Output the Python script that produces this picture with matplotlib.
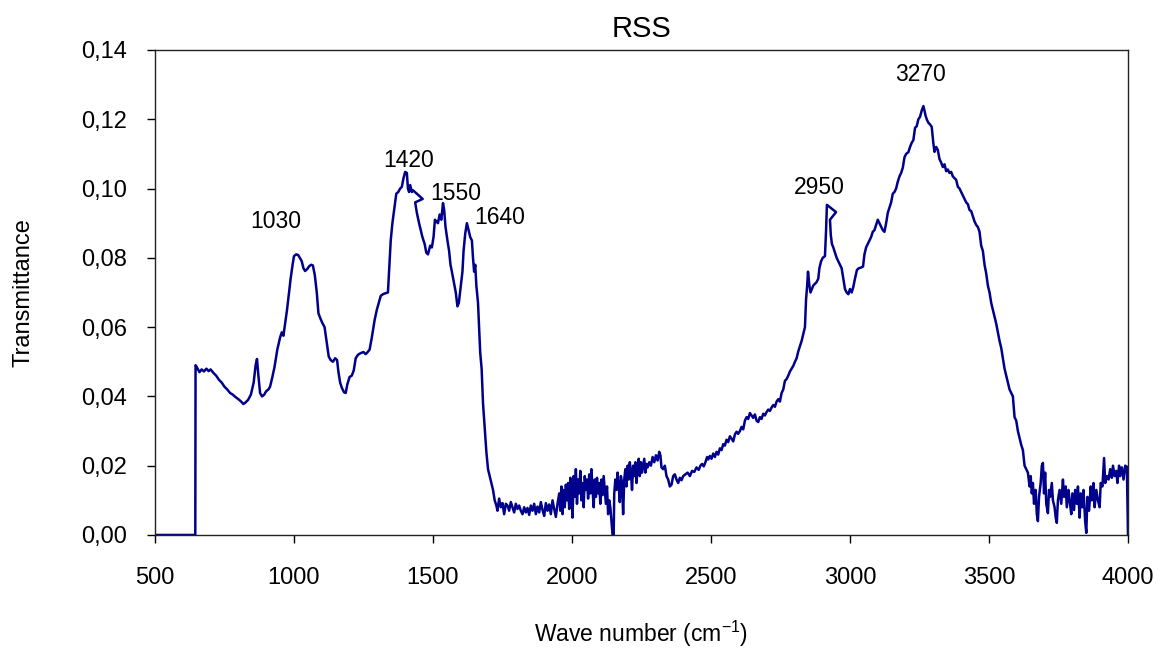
import matplotlib.pyplot as plt
from matplotlib.ticker import FuncFormatter, MultipleLocator

plt.rcParams["font.family"] = ["Liberation Sans", "DejaVu Sans"]
plt.rcParams["mathtext.default"] = "regular"

navy = (0 / 255, 0 / 255, 140 / 255)

# spectrum (wave number in cm-1, transmittance)
wave = [
    500, 645, 646, 650, 660, 668, 676, 685, 693, 700, 710, 720, 730, 740, 750,
    760, 770, 780, 790, 800, 810, 818, 825, 835, 845, 855, 862, 867, 872, 878,
    885, 893, 900, 908, 914, 922, 930, 940, 950, 956, 962, 968, 975, 982, 988,
    995, 1000, 1008, 1015, 1021, 1028, 1034, 1040, 1048, 1055, 1062, 1068, 1075,
    1082, 1088, 1095, 1102, 1110, 1118, 1125, 1132, 1140, 1148, 1155, 1160, 1166,
    1172, 1180, 1186, 1192, 1200, 1208, 1215, 1222, 1230, 1240, 1250, 1258, 1265,
    1272, 1280, 1290, 1298, 1305, 1312, 1320, 1330, 1338, 1342, 1348, 1354, 1362,
    1368, 1375, 1382, 1388, 1394, 1400, 1406, 1410, 1414, 1418, 1424, 1428, 1463,
    1436, 1442, 1450, 1456, 1462, 1470, 1476, 1482, 1490, 1496, 1502, 1507, 1512,
    1518, 1524, 1530, 1536, 1540, 1545, 1552, 1558, 1563, 1568, 1575, 1582, 1588,
    1593, 1600, 1606, 1610, 1616, 1622, 1628, 1634, 1640, 1644, 1648, 1652, 1656,
    1662, 1666, 1670, 1675, 1680, 1686, 1692, 1698, 1704, 1710, 1716, 1722, 1728,
    1732, 1738, 1744, 1750, 1756, 1762, 1768, 1774, 1780, 1786, 1792, 1798, 1804,
    1810, 1816, 1822, 1828, 1834, 1840, 1846, 1852, 1858, 1864, 1870, 1876, 1882,
    1888, 1894, 1900, 1906, 1912, 1918, 1924, 1930, 1936, 1942, 1948, 1954, 1958,
    1962, 1966, 1970, 1974, 1978, 1982, 1986, 1990, 1994, 1998, 2002, 2006, 2010,
    2014, 2018, 2022, 2026, 2030, 2034, 2038, 2042, 2046, 2050, 2054, 2058, 2062,
    2066, 2070, 2074, 2078, 2082, 2086, 2090, 2094, 2098, 2102, 2106, 2110, 2114,
    2118, 2122, 2126, 2130, 2134, 2138, 2142, 2146, 2150, 2152, 2156, 2160, 2164,
    2168, 2172, 2176, 2180, 2184, 2188, 2192, 2196, 2200, 2204, 2208, 2212, 2216,
    2220, 2224, 2228, 2232, 2236, 2240, 2244, 2248, 2252, 2256, 2260, 2264, 2268,
    2272, 2278, 2284, 2290, 2296, 2302, 2308, 2314, 2318, 2322, 2328, 2334, 2340,
    2346, 2352, 2358, 2364, 2370, 2376, 2382, 2388, 2394, 2400, 2408, 2416, 2424,
    2432, 2440, 2448, 2456, 2462, 2468, 2474, 2480, 2486, 2490, 2496, 2502, 2508,
    2514, 2520, 2526, 2532, 2538, 2544, 2550, 2556, 2562, 2568, 2574, 2580, 2586,
    2592, 2598, 2604, 2610, 2616, 2622, 2628, 2634, 2640, 2646, 2652, 2658, 2664,
    2670, 2676, 2682, 2688, 2694, 2700, 2706, 2712, 2718, 2724, 2730, 2736, 2742,
    2748, 2754, 2760, 2766, 2772, 2778, 2784, 2790, 2796, 2802, 2808, 2814, 2820,
    2826, 2832, 2838, 2842, 2846, 2849, 2854, 2858, 2863, 2868, 2874, 2880, 2886,
    2890, 2896, 2902, 2910, 2914, 2917, 2950, 2928, 2931, 2935, 2940, 2946, 2952,
    2958, 2964, 2970, 2976, 2982, 2988, 2994, 3000, 3006, 3012, 3018, 3025, 3032,
    3040, 3047, 3052, 3058, 3064, 3070, 3076, 3082, 3088, 3094, 3100, 3106, 3112,
    3118, 3124, 3130, 3136, 3142, 3148, 3154, 3160, 3166, 3172, 3178, 3184, 3190,
    3196, 3202, 3210, 3216, 3222, 3228, 3234, 3240, 3246, 3252, 3258, 3264, 3268,
    3272, 3277, 3282, 3288, 3294, 3300, 3304, 3310, 3316, 3322, 3328, 3334, 3340,
    3346, 3352, 3358, 3364, 3370, 3376, 3382, 3388, 3394, 3400, 3406, 3412, 3418,
    3424, 3430, 3436, 3442, 3448, 3454, 3460, 3466, 3472, 3478, 3484, 3490, 3496,
    3502, 3508, 3514, 3520, 3526, 3532, 3538, 3544, 3550, 3556, 3562, 3568, 3574,
    3580, 3586, 3592, 3598, 3604, 3610, 3616, 3622, 3628, 3634, 3640, 3646, 3650,
    3654, 3658, 3662, 3668, 3672, 3676, 3680, 3686, 3690, 3694, 3698, 3702, 3706,
    3712, 3716, 3720, 3726, 3730, 3736, 3740, 3744, 3748, 3754, 3760, 3766, 3770,
    3776, 3780, 3786, 3790, 3796, 3800, 3806, 3810, 3816, 3820, 3826, 3830, 3836,
    3840, 3846, 3850, 3854, 3860, 3866, 3870, 3876, 3880, 3886, 3892, 3898, 3902,
    3908, 3914, 3918, 3924, 3930, 3936, 3942, 3946, 3952, 3958, 3962, 3968, 3972,
    3978, 3984, 3990, 3996, 4000,
]
trans = [
    0.0, 0.0, 0.049, 0.0485, 0.047, 0.0478, 0.0472, 0.048, 0.0473, 0.0478, 0.0468,
    0.046, 0.0448, 0.044, 0.0428, 0.042, 0.041, 0.0405, 0.0398, 0.0392, 0.0385,
    0.0378, 0.0382, 0.039, 0.0405, 0.044, 0.049, 0.0508, 0.046, 0.041, 0.04,
    0.0405, 0.0415, 0.042, 0.0428, 0.0455, 0.0485, 0.0535, 0.057, 0.0585, 0.0575,
    0.061, 0.065, 0.07, 0.074, 0.078, 0.0805, 0.081, 0.0808, 0.08, 0.079, 0.077,
    0.0762, 0.0768, 0.0776, 0.078, 0.0778, 0.075, 0.07, 0.064, 0.0625, 0.0612,
    0.06, 0.0555, 0.0515, 0.0505, 0.05, 0.051, 0.0505, 0.047, 0.044, 0.0425,
    0.0412, 0.041, 0.0435, 0.0456, 0.046, 0.0475, 0.051, 0.052, 0.0525, 0.0528,
    0.0522, 0.0528, 0.0535, 0.057, 0.062, 0.065, 0.067, 0.069, 0.0695, 0.0698,
    0.07, 0.076, 0.085, 0.09, 0.095, 0.0985, 0.099, 0.1, 0.1005, 0.103, 0.1048,
    0.1045, 0.1, 0.099, 0.101, 0.099, 0.0995, 0.097, 0.096, 0.093, 0.09, 0.088,
    0.086, 0.084, 0.0815, 0.081, 0.0835, 0.083, 0.086, 0.091, 0.0905, 0.09,
    0.0925, 0.091, 0.0958, 0.094, 0.089, 0.085, 0.082, 0.078, 0.076, 0.073, 0.07,
    0.066, 0.067, 0.072, 0.076, 0.082, 0.087, 0.09, 0.088, 0.086, 0.085, 0.08,
    0.076, 0.078, 0.072, 0.067, 0.06, 0.0525, 0.048, 0.038, 0.031, 0.024, 0.019,
    0.017, 0.015, 0.013, 0.01, 0.0085, 0.007, 0.0105, 0.008, 0.0092, 0.006,
    0.009, 0.0085, 0.007, 0.0095, 0.008, 0.0065, 0.009, 0.0075, 0.0085, 0.007,
    0.006, 0.008, 0.0065, 0.0078, 0.0058, 0.0085, 0.007, 0.009, 0.006, 0.0082,
    0.0065, 0.0095, 0.0072, 0.0055, 0.0092, 0.007, 0.0088, 0.006, 0.01, 0.0075,
    0.0052, 0.009, 0.012, 0.007, 0.014, 0.006, 0.013, 0.008, 0.0145, 0.01, 0.015,
    0.0075, 0.0165, 0.012, 0.005, 0.017, 0.011, 0.019, 0.009, 0.016, 0.012,
    0.0185, 0.01, 0.015, 0.008, 0.017, 0.013, 0.016, 0.0105, 0.0175, 0.012, 0.019,
    0.013, 0.008, 0.016, 0.011, 0.0165, 0.012, 0.015, 0.009, 0.016, 0.0115, 0.017,
    0.013, 0.009, 0.014, 0.006, 0.01, 0.008, 0.004, 0.0, 0.0, 0.012, 0.016, 0.013,
    0.018, 0.014, 0.0095, 0.017, 0.015, 0.006, 0.016, 0.019, 0.014, 0.02, 0.016,
    0.021, 0.018, 0.013, 0.02, 0.017, 0.021, 0.015, 0.019, 0.022, 0.017, 0.021,
    0.018, 0.02, 0.022, 0.018, 0.0205, 0.0195, 0.021, 0.02, 0.0225, 0.021, 0.023,
    0.0215, 0.024, 0.023, 0.0195, 0.019, 0.02, 0.017, 0.016, 0.014, 0.0145, 0.017,
    0.0175, 0.016, 0.015, 0.0165, 0.0158, 0.017, 0.0175, 0.018, 0.017, 0.0185,
    0.0182, 0.0195, 0.0188, 0.02, 0.0205, 0.0198, 0.021, 0.0225, 0.0218, 0.0228,
    0.022, 0.0235, 0.0225, 0.024, 0.0232, 0.025, 0.0245, 0.0262, 0.0258, 0.0275,
    0.0268, 0.0285, 0.0278, 0.027, 0.029, 0.0298, 0.0292, 0.03, 0.0312, 0.0305,
    0.033, 0.034, 0.0335, 0.0352, 0.0345, 0.0338, 0.0348, 0.033, 0.0326, 0.034,
    0.0335, 0.035, 0.0345, 0.0355, 0.0362, 0.0358, 0.0368, 0.0375, 0.037, 0.0385,
    0.0392, 0.0385, 0.041, 0.042, 0.0445, 0.045, 0.046, 0.0472, 0.048, 0.0488,
    0.05, 0.051, 0.053, 0.0545, 0.056, 0.058, 0.06, 0.068, 0.072, 0.076, 0.072,
    0.07, 0.071, 0.072, 0.0725, 0.073, 0.074, 0.077, 0.079, 0.08, 0.0805, 0.088,
    0.0953, 0.0932, 0.091, 0.0866, 0.084, 0.083, 0.0815, 0.08, 0.079, 0.078,
    0.077, 0.074, 0.071, 0.07, 0.0695, 0.071, 0.07, 0.0716, 0.074, 0.0765, 0.077,
    0.0772, 0.0775, 0.081, 0.083, 0.084, 0.085, 0.086, 0.0875, 0.088, 0.0895,
    0.091, 0.09, 0.089, 0.088, 0.0875, 0.09, 0.093, 0.0945, 0.096, 0.0985, 0.099,
    0.1, 0.102, 0.1035, 0.1045, 0.106, 0.109, 0.11, 0.1105, 0.112, 0.1132, 0.114,
    0.1175, 0.118, 0.12, 0.1207, 0.1225, 0.1238, 0.1225, 0.121, 0.1198, 0.119,
    0.1185, 0.1178, 0.113, 0.1106, 0.112, 0.1111, 0.1085, 0.1075, 0.1062, 0.107,
    0.105, 0.1055, 0.1045, 0.1048, 0.1035, 0.103, 0.1025, 0.1005, 0.1, 0.099,
    0.098, 0.097, 0.096, 0.0955, 0.0938, 0.0935, 0.092, 0.0905, 0.0895, 0.0889,
    0.0875, 0.0835, 0.082, 0.078, 0.0755, 0.072, 0.07, 0.067, 0.065, 0.063, 0.061,
    0.0585, 0.056, 0.054, 0.051, 0.048, 0.046, 0.044, 0.042, 0.041, 0.04, 0.034,
    0.033, 0.03, 0.028, 0.026, 0.0245, 0.02, 0.019, 0.018, 0.014, 0.017, 0.012,
    0.015, 0.009, 0.013, 0.006, 0.004, 0.011, 0.015, 0.02, 0.0208, 0.012, 0.018,
    0.009, 0.0063, 0.013, 0.011, 0.015, 0.01, 0.008, 0.005, 0.0035, 0.01, 0.013,
    0.009, 0.016, 0.011, 0.014, 0.008, 0.013, 0.01, 0.006, 0.012, 0.0072, 0.013,
    0.009, 0.014, 0.005, 0.012, 0.008, 0.013, 0.004, 0.0006, 0.011, 0.007, 0.014,
    0.01, 0.015, 0.008, 0.013, 0.01, 0.008, 0.015, 0.014, 0.0222, 0.015, 0.017,
    0.016, 0.019, 0.0165, 0.02, 0.017, 0.0185, 0.015, 0.02, 0.017, 0.0195, 0.016,
    0.02, 0.0197, 0.0,
]

peak_labels = ["1030", "1420", "1550", "1640", "2950", "3270"]
peak_x = [935, 1414, 1583, 1741, 2888, 3252]
peak_y = [0.0904, 0.108, 0.0987, 0.0915, 0.1002, 0.133]

fig = plt.figure(figsize=(11.6, 6.49), dpi=100)
ax = fig.add_axes([0.1336, 0.1757, 0.8388, 0.7473])

ax.plot(wave, trans, color=navy, linewidth=1.8)

for lab, px, py in zip(peak_labels, peak_x, peak_y):
    ax.text(px, py, lab, ha="center", va="center", fontsize=16.5)

ax.set_xlim(500, 4000)
ax.set_ylim(0, 0.14)
ax.xaxis.set_major_locator(MultipleLocator(500))
ax.yaxis.set_major_locator(MultipleLocator(0.02))
ax.yaxis.set_major_formatter(FuncFormatter(lambda v, p: f"{v:.2f}".replace(".", ",")))
ax.tick_params(labelsize=17, length=6, width=1)
ax.tick_params(axis="x", pad=17)
ax.tick_params(axis="y", pad=14)

for s in ax.spines.values():
    s.set_linewidth(1)
    s.set_color("#222222")

ax.set_title("RSS", fontsize=21, pad=9)
ax.set_xlabel("Wave number (cm$^{-1}$)", fontsize=16.5)
ax.set_ylabel("Transmittance", fontsize=17)
ax.xaxis.set_label_coords(0.5, -0.172)
ax.yaxis.set_label_coords(-0.124, 0.5)

fig.savefig("out.png", dpi=100)
